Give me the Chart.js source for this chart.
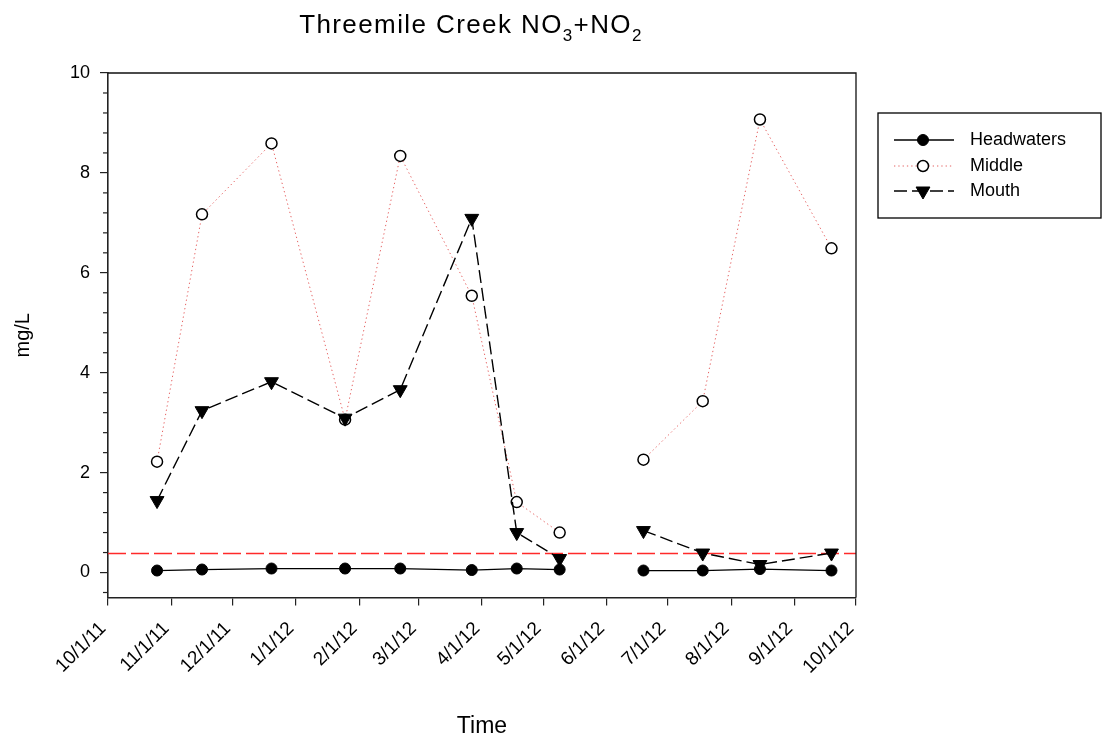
<!DOCTYPE html>
<html>
<head>
<meta charset="utf-8">
<title>Threemile Creek NO3+NO2</title>
<script src="https://cdn.jsdelivr.net/npm/chart.js@4.4.1/dist/chart.umd.min.js"></script>
<style>
  html, body { margin: 0; padding: 0; background: #ffffff; }
  #wrap { position: relative; width: 1105px; height: 740px; }
</style>
</head>
<body>
<div id="wrap"><canvas id="chart" width="1105" height="740"></canvas></div>
<script>
// Sampling dates (one visit per month; no visit between early May and mid June)
const sampleDates = ['2011-10-25', '2011-11-16', '2011-12-20', '2012-01-25', '2012-02-21', '2012-03-27',
                     '2012-04-18', '2012-05-09', '2012-06-19', '2012-07-18', '2012-08-15', '2012-09-19'];
// NO3+NO2 concentrations, mg/L
const headwaters = [0.04, 0.06, 0.08, 0.08, 0.08, 0.05, 0.08, 0.06, 0.04, 0.04, 0.07, 0.04];
const middle     = [2.22, 7.17, 8.59, 3.06, 8.34, 5.54, 1.41, 0.80, 2.26, 3.43, 9.07, 6.49];
const mouth      = [1.44, 3.24, 3.82, 3.09, 3.66, 7.09, 0.80, 0.28, 0.84, 0.39, 0.16, 0.39];
// the series are not connected across this interval
const gapStart = '2012-05-09';
const gapEnd   = '2012-06-19';
// reference level drawn as a dashed red line
const criterion = 0.38;

const axisStart = '2011-10-01';
const axisEnd   = '2012-10-01';
const monthTicks = ['2011-10-01', '2011-11-01', '2011-12-01', '2012-01-01', '2012-02-01', '2012-03-01', '2012-04-01',
                    '2012-05-01', '2012-06-01', '2012-07-01', '2012-08-01', '2012-09-01', '2012-10-01'];
const yMajorTicks = [0, 2, 4, 6, 8, 10];
const yMin = -0.5, yMax = 10, yMinorStep = 0.4;

const seriesNames = ['Headwaters', 'Middle', 'Mouth'];

const FONT = "'Liberation Sans', Arial, Helvetica, sans-serif";
const toMs = s => new Date(s + 'T00:00:00Z').getTime();
const pts = vals => sampleDates.map((d, i) => ({ x: toMs(d), y: vals[i] }));
const gapA = toMs(gapStart), gapB = toMs(gapEnd);
const hideGap = ctx => (ctx.p0.parsed.x === gapA && ctx.p1.parsed.x === gapB) ? 'rgba(0,0,0,0)' : undefined;

function fmtDate(ms) {
  const d = new Date(ms);
  return (d.getUTCMonth() + 1) + '/' + d.getUTCDate() + '/' + String(d.getUTCFullYear()).slice(2);
}

// Title with chemical subscripts
const titlePlugin = {
  id: 'subTitle',
  afterDraw(chart) {
    const ctx = chart.ctx;
    const parts = [
      { t: 'Threemile Creek NO', size: 26, dy: 0 },
      { t: '3', size: 17, dy: 8 },
      { t: '+NO', size: 26, dy: 0 },
      { t: '2', size: 17, dy: 8 }
    ];
    ctx.save();
    if ('letterSpacing' in ctx) ctx.letterSpacing = '1.4px';
    let total = 0;
    parts.forEach(p => { ctx.font = p.size + 'px ' + FONT; p.w = ctx.measureText(p.t).width; total += p.w; });
    let x = 471 - total / 2;
    const base = 33;
    ctx.fillStyle = '#000';
    ctx.textBaseline = 'alphabetic';
    ctx.textAlign = 'left';
    parts.forEach(p => { ctx.font = p.size + 'px ' + FONT; ctx.fillText(p.t, x, base + p.dy); x += p.w; });
    ctx.restore();
  }
};

// Box frame, minor y ticks and the series key
const framePlugin = {
  id: 'frameAndKey',
  afterDraw(chart) {
    const ctx = chart.ctx;
    const a = chart.chartArea;
    const ys = chart.scales.y;
    ctx.save();
    // top and right edges of the plot box
    ctx.strokeStyle = '#111';
    ctx.lineWidth = 1.3;
    ctx.beginPath();
    ctx.moveTo(a.left, a.top); ctx.lineTo(a.right, a.top); ctx.lineTo(a.right, a.bottom);
    ctx.stroke();
    // minor ticks on the y axis
    ctx.strokeStyle = '#222';
    ctx.lineWidth = 1.2;
    for (let v = -0.4; v < yMax; v += yMinorStep) {
      const r = Math.round(v * 10) / 10;
      if (Math.abs(r / 2 - Math.round(r / 2)) < 1e-6) continue;
      const py = ys.getPixelForValue(r);
      ctx.beginPath(); ctx.moveTo(a.left - 5, py); ctx.lineTo(a.left, py); ctx.stroke();
    }
    // key
    const bx = 878, by = 113, bw = 223, bh = 105;
    ctx.strokeStyle = '#000';
    ctx.lineWidth = 1.3;
    ctx.strokeRect(bx, by, bw, bh);
    const rows = [140, 166, 191];
    chart.data.datasets.slice(0, 3).forEach((ds, i) => {
      const y = rows[i];
      ctx.save();
      ctx.strokeStyle = ds.borderColor;
      ctx.lineWidth = ds.borderWidth;
      ctx.setLineDash(ds.borderDash || []);
      ctx.beginPath(); ctx.moveTo(894, y); ctx.lineTo(954, y); ctx.stroke();
      ctx.restore();
      ctx.save();
      ctx.fillStyle = ds.pointBackgroundColor;
      ctx.strokeStyle = ds.pointBorderColor;
      ctx.lineWidth = ds.pointBorderWidth;
      Chart.helpers.drawPoint(ctx, {
        pointStyle: ds.pointStyle, radius: ds.pointRadius,
        rotation: ds.pointRotation || 0, borderWidth: ds.pointBorderWidth
      }, 923, y);
      ctx.restore();
      ctx.fillStyle = '#000';
      ctx.font = '18px ' + FONT;
      ctx.textAlign = 'left';
      ctx.textBaseline = 'middle';
      ctx.fillText(seriesNames[i], 970, y);
    });
    ctx.restore();
  }
};

Chart.defaults.font.family = FONT;
Chart.defaults.color = '#000';

new Chart(document.getElementById('chart'), {
  type: 'line',
  data: {
    datasets: [
      {
        label: seriesNames[0], data: pts(headwaters), order: 1,
        borderColor: '#000', borderWidth: 1.3,
        pointStyle: 'circle', pointRadius: 5.5, pointBackgroundColor: '#000',
        pointBorderColor: '#000', pointBorderWidth: 1,
        segment: { borderColor: hideGap }
      },
      {
        label: seriesNames[1], data: pts(middle), order: 3,
        borderColor: 'rgba(225,70,70,0.85)', borderWidth: 1, borderDash: [1.3, 3],
        pointStyle: 'circle', pointRadius: 5.5, pointBackgroundColor: '#fff',
        pointBorderColor: '#000', pointBorderWidth: 1.5,
        segment: { borderColor: hideGap }
      },
      {
        label: seriesNames[2], data: pts(mouth), order: 2,
        borderColor: '#000', borderWidth: 1.4, borderDash: [13, 5],
        pointStyle: 'triangle', pointRotation: 180, pointRadius: 8, pointBackgroundColor: '#000',
        pointBorderColor: '#000', pointBorderWidth: 1,
        segment: { borderColor: hideGap }
      },
      {
        label: 'criterion', data: [{ x: toMs(axisStart), y: criterion }, { x: toMs(axisEnd), y: criterion }],
        order: 4, borderColor: '#ff2a2a', backgroundColor: '#ff2a2a', borderWidth: 1.4, borderDash: [18, 5],
        pointRadius: 0
      }
    ]
  },
  options: {
    responsive: false,
    animation: false,
    devicePixelRatio: 1,
    layout: { padding: { top: 73, right: 249, left: 0, bottom: 0 } },
    plugins: { legend: { display: false }, title: { display: false }, tooltip: { enabled: false } },
    elements: { line: { tension: 0, fill: false } },
    scales: {
      x: {
        type: 'linear',
        min: toMs(axisStart), max: toMs(axisEnd),
        afterBuildTicks: s => { s.ticks = monthTicks.map(d => ({ value: toMs(d) })); },
        afterFit: s => { s.height = 142.5; },
        ticks: {
          autoSkip: false, minRotation: 45, maxRotation: 45, padding: 12, labelOffset: -5,
          font: { size: 19 }, color: '#000',
          callback: v => fmtDate(v)
        },
        grid: { drawOnChartArea: false, drawTicks: true, tickLength: 8, color: '#222', lineWidth: 1.2 },
        border: { display: true, color: '#222', width: 1.6 },
        title: { display: true, text: 'Time', font: { size: 23 }, color: '#000', padding: { top: 0, bottom: 0 } }
      },
      y: {
        type: 'linear',
        min: yMin, max: yMax,
        afterBuildTicks: s => { s.ticks = yMajorTicks.map(v => ({ value: v })); },
        afterFit: s => { s.width = 108; },
        ticks: { font: { size: 18 }, color: '#000', padding: 10 },
        grid: { drawOnChartArea: false, drawTicks: true, tickLength: 8, color: '#222', lineWidth: 1.2 },
        border: { display: true, color: '#222', width: 1.6 },
        title: { display: true, text: 'mg/L', font: { size: 20 }, color: '#000', padding: { top: 11, bottom: 0 } }
      }
    }
  },
  plugins: [titlePlugin, framePlugin]
});
</script>
</body>
</html>
